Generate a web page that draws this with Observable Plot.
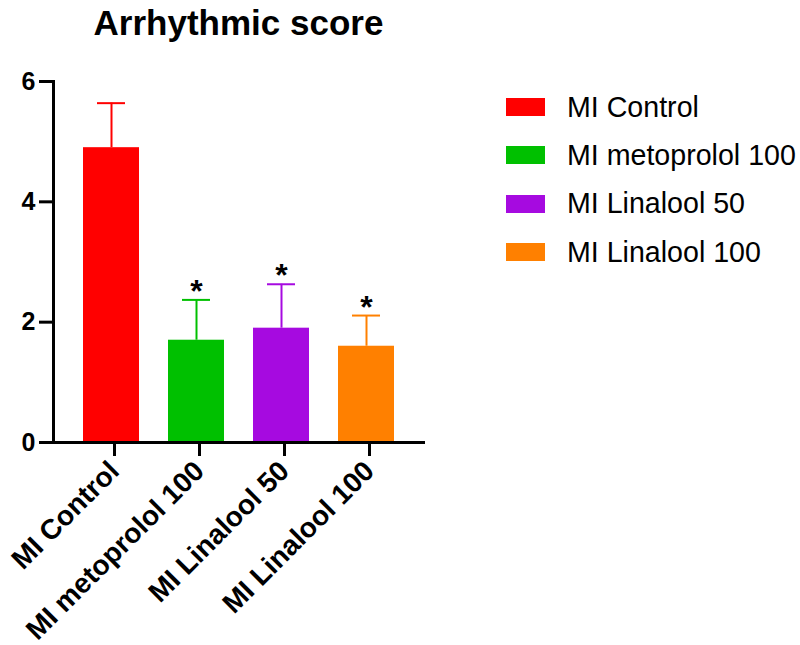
<!DOCTYPE html>
<html>
<head>
<meta charset="utf-8">
<script src="https://cdn.jsdelivr.net/npm/d3@7"></script>
<script src="https://cdn.jsdelivr.net/npm/@observablehq/plot@0.6"></script>
<style>
  html, body { margin: 0; padding: 0; background: #fff; }
  #wrap { position: relative; width: 800px; height: 645px; font-family: "Liberation Sans", Arial, sans-serif; }
  #title { position: absolute; left: 0; width: 477px; top: 3px; text-align: center; font-weight: bold; font-size: 35px; color: #000; }
  #legend { position: absolute; left: 506px; top: 83px; }
  .row { display: flex; align-items: center; height: 48.3px; }
  .sw { width: 39px; height: 18px; margin-right: 22px; }
  .lab { font-size: 28.6px; color: #000; white-space: nowrap; }
</style>
</head>
<body>
<div id="wrap">
  <div id="title">Arrhythmic score</div>
  <div id="legend"></div>
</div>
<script>
const groups = ["MI Control", "MI metoprolol 100", "MI Linalool 50", "MI Linalool 100"];
const means = [4.9, 1.7, 1.9, 1.6];
const uppers = [5.64, 2.37, 2.63, 2.11];
const stars = ["", "*", "*", "*"];
const colors = ["#ff0000", "#00c000", "#a60ae0", "#ff8000"];
const yTicks = [0, 2, 4, 6];

const data = groups.map((g, i) => ({group: g, mean: means[i], upper: uppers[i], star: stars[i]}));

const plot = Plot.plot({
  width: 800,
  height: 645,
  marginLeft: 53,
  marginRight: 375,
  marginTop: 81,
  marginBottom: 203,
  style: {fontFamily: "'Liberation Sans', Arial, sans-serif", background: "#fff"},
  x: {domain: groups, paddingInner: 0.34, paddingOuter: 0.35, label: null},
  y: {domain: [0, 6], label: null},
  color: {domain: groups, range: colors},
  marks: [
    Plot.ruleX(data, {x: "group", y1: "mean", y2: "upper", stroke: "group", strokeWidth: 2}),
    Plot.tickY(data, {x: "group", y: "upper", stroke: "group", strokeWidth: 2, insetLeft: 14, insetRight: 14}),
    Plot.barY(data, {x: "group", y: "mean", fill: "group"}),
    Plot.text(data, {x: "group", y: "upper", text: "star", dy: 2, lineAnchor: "bottom", fontSize: 32, fontWeight: "bold", fill: "#000"}),
    Plot.axisY({ticks: yTicks, tickSize: 14, tickPadding: 4, fontSize: 25, fontWeight: "bold", strokeWidth: 3, tickFormat: d => String(d), color: "#000"}),
    Plot.axisX({tickSize: 14, tickPadding: 10, dx: 3, fontSize: 28, fontWeight: "bold", tickRotate: -45, strokeWidth: 3, color: "#000"}),
    Plot.ruleY([0], {strokeWidth: 3, stroke: "#000"}),
    Plot.frame({anchor: "left", strokeWidth: 3, stroke: "#000"})
  ]
});
plot.style.position = "absolute";
plot.style.left = "0";
plot.style.top = "0";
const wrap = document.getElementById("wrap");
wrap.insertBefore(plot, wrap.firstChild);

const legend = document.getElementById("legend");
groups.forEach((g, i) => {
  const row = document.createElement("div");
  row.className = "row";
  const sw = document.createElement("div");
  sw.className = "sw";
  sw.style.background = colors[i];
  const lab = document.createElement("div");
  lab.className = "lab";
  lab.textContent = g;
  row.appendChild(sw);
  row.appendChild(lab);
  legend.appendChild(row);
});
</script>
</body>
</html>
